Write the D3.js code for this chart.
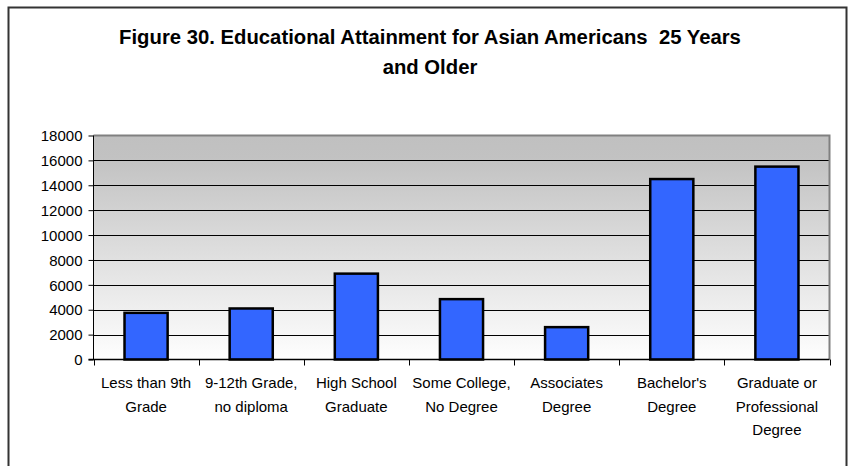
<!DOCTYPE html>
<html><head><meta charset="utf-8">
<script src="https://cdn.jsdelivr.net/npm/d3@7"></script>
<style>body{margin:0;background:#fff}svg{display:block}text{font-family:"Liberation Sans",Arial,sans-serif}</style>
</head><body><svg id="c" width="849" height="466"></svg>
<script>
const categories = [
  ["Less than 9th","Grade"],
  ["9-12th Grade,","no diploma"],
  ["High School","Graduate"],
  ["Some College,","No Degree"],
  ["Associates","Degree"],
  ["Bachelor's","Degree"],
  ["Graduate or","Professional","Degree"]
];
const values = [3750, 4100, 6900, 4850, 2600, 14500, 15500];
const yTicks = [0,2000,4000,6000,8000,10000,12000,14000,16000,18000];
const titleLines = ["Figure 30. Educational Attainment for Asian Americans  25 Years","and Older"];

const svg = d3.select("#c");
const m = {left:93.5, top:135.5, right:829.5, bottom:359.5};

// outer frame
svg.append("rect").attr("x",8.5).attr("y",7.5).attr("width",838).attr("height",470)
  .attr("fill","none").attr("stroke","#333").attr("stroke-width",2);

// title
const t = svg.append("text").attr("text-anchor","middle").attr("font-weight","bold").attr("font-size",20.3)
  .attr("fill","#000").style("white-space","pre");
titleLines.forEach((s,i)=>t.append("tspan").attr("x",430).attr("y",44+i*30).text(s));

const keys = categories.map((d,i)=>i);
const x = d3.scaleBand().domain(keys).range([m.left,m.right]).paddingInner(0.59).paddingOuter(0.295);
const xb = d3.scaleBand().domain(keys).range([m.left,m.right]);
const y = d3.scaleLinear().domain([0,18000]).range([m.bottom,m.top]);

// gradient background
const defs = svg.append("defs");
const g = defs.append("linearGradient").attr("id","bg").attr("x1",0).attr("y1",0).attr("x2",0).attr("y2",1);
g.append("stop").attr("offset","0%").attr("stop-color","#c0c0c0");
g.append("stop").attr("offset","10%").attr("stop-color","#c2c2c2");
g.append("stop").attr("offset","100%").attr("stop-color","#fefefe");
svg.append("rect").attr("x",m.left).attr("y",m.top).attr("width",m.right-m.left).attr("height",m.bottom-m.top)
  .attr("fill","url(#bg)");

// gridlines
svg.append("g").selectAll("line").data(yTicks.filter(d=>d>0 && d<18000)).join("line")
  .attr("x1",m.left).attr("x2",m.right).attr("y1",d=>Math.round(y(d))+0.5).attr("y2",d=>Math.round(y(d))+0.5)
  .attr("stroke","#000").attr("stroke-width",1);

// plot border top/right
svg.append("path").attr("d",`M${m.left},${m.top}H${m.right}V${m.bottom}`).attr("fill","none").attr("stroke","#808080").attr("stroke-width",2);

// bars
svg.append("g").selectAll("rect").data(values).join("rect")
  .attr("x",(d,i)=>x(i)).attr("width",x.bandwidth())
  .attr("y",d=>y(d)).attr("height",d=>m.bottom-y(d))
  .attr("fill","#3366ff").attr("stroke","#000").attr("stroke-width",2.5);

// y axis
const ya = d3.axisLeft(y).tickValues(yTicks).tickSize(5).tickPadding(6).tickFormat(d3.format("d"));
const yg = svg.append("g").attr("transform",`translate(${m.left},0)`).call(ya);
yg.select(".domain").attr("stroke","#000").attr("d",`M0,${m.top}V${m.bottom}`);
yg.selectAll(".tick line").attr("stroke","#000");
yg.selectAll(".tick text").attr("font-size",15).attr("font-family","Liberation Sans, Arial, sans-serif").attr("fill","#000").attr("dy","0.35em");

// x axis
const xa = svg.append("g");
xa.append("line").attr("x1",m.left-5).attr("x2",m.right).attr("y1",m.bottom).attr("y2",m.bottom).attr("stroke","#000").attr("stroke-width",1.5);
const bounds = keys.map(i=>xb(i)).concat([m.right]);
xa.selectAll("line.t").data(bounds).join("line").attr("class","t")
  .attr("x1",d=>Math.round(d)+0.5).attr("x2",d=>Math.round(d)+0.5).attr("y1",m.bottom).attr("y2",m.bottom+6).attr("stroke","#000");
categories.forEach((lines,i)=>{
  const tx = xa.append("text").attr("text-anchor","middle").attr("font-size",15).attr("fill","#000");
  lines.forEach((s,j)=>tx.append("tspan").attr("x",xb(i)+xb.bandwidth()/2).attr("y",388+j*23.5).text(s));
});
</script></body></html>
